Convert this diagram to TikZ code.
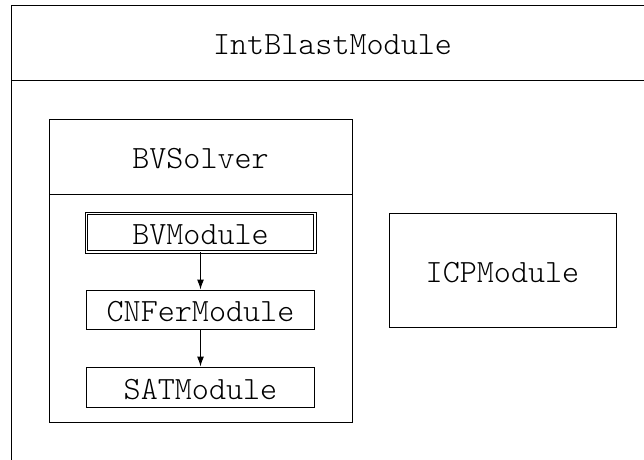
\documentclass[tikz,border=0pt]{standalone}
\usepackage{fontspec}
\setmonofont{Latin Modern Mono Light}
\usetikzlibrary{arrows.meta}
\begin{document}
\begin{tikzpicture}[x=1pt,y=-1pt,
  line width=1pt,
  label/.style={inner sep=0pt, text height=24pt, text depth=0pt,
    font=\fontsize{32.5}{34}\selectfont\ttfamily},
  modbox/.style={label, draw, rectangle},
  mainbox/.style={modbox, double, double distance=1.5pt},
  flow/.style={-{Latex[length=10pt,width=7pt]}}]
\useasboundingbox (0,0) rectangle (644,459);
\begin{scope}
  \clip (0,0) rectangle (644,459);
  % outer container with its header band
  \draw (11,5) rectangle (654,475);
  \draw (11,80) -- (654,80);
  \node[label] (intblast) at (332.5,42.5) {IntBlastModule};

  % BVSolver container
  \draw (49,119) rectangle (352,422);
  \draw (49,194) -- (352,194);
  \node[label] (bvsolver) at (200.5,156.5) {BVSolver};

  % modules inside the solver
  \node[mainbox, minimum width=228.5pt, minimum height=38.5pt] (bv) at (200.5,232.5) {BVModule};
  \node[modbox, minimum width=228pt, minimum height=39pt] (cnf) at (200.5,309.5) {CNFerModule};
  \node[modbox, minimum width=228pt, minimum height=40pt] (sat) at (200.5,387) {SATModule};

  \draw[flow] (bv) -- (cnf);
  \draw[flow] (cnf) -- (sat);

  % ICP module beside the solver
  \node[modbox, minimum width=227pt, minimum height=114pt] (icp) at (502.5,270) {ICPModule};
\end{scope}
\end{tikzpicture}
\end{document}
